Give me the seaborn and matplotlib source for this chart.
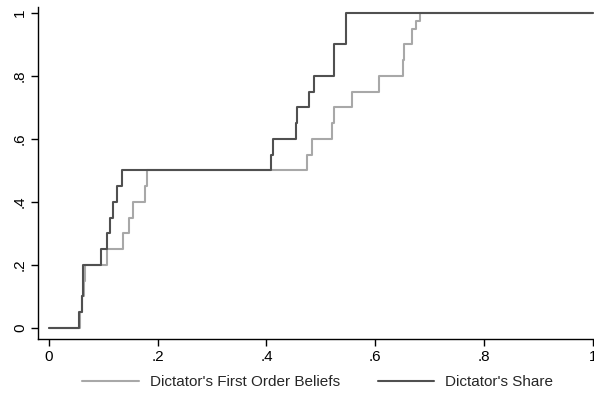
import matplotlib
matplotlib.use("Agg")
import matplotlib.pyplot as plt
import seaborn as sns
import pandas as pd

# Cumulative distribution steps (x = share, y = cumulative fraction)
beliefs_x = [0.0, 0.058, 0.061, 0.064, 0.067, 0.107, 0.137, 0.148, 0.155, 0.176, 0.181,
             0.474, 0.483, 0.521, 0.524, 0.558, 0.607, 0.650, 0.653, 0.668, 0.675, 0.683, 1.0]
beliefs_y = [0.0, 0.05, 0.10, 0.15, 0.20, 0.25, 0.30, 0.35, 0.40, 0.45, 0.50,
             0.55, 0.60, 0.65, 0.70, 0.75, 0.80, 0.85, 0.90, 0.95, 0.975, 1.0, 1.0]

share_x = [0.0, 0.056, 0.060, 0.063, 0.096, 0.106, 0.112, 0.118, 0.126, 0.134,
           0.409, 0.412, 0.454, 0.456, 0.479, 0.488, 0.524, 0.546, 1.0]
share_y = [0.0, 0.05, 0.10, 0.20, 0.25, 0.30, 0.35, 0.40, 0.45, 0.50,
           0.55, 0.60, 0.65, 0.70, 0.75, 0.80, 0.90, 1.0, 1.0]

series_names = ["Dictator's First Order Beliefs", "Dictator's Share"]
series_colors = ["#a8a8a8", "#505050"]

x_ticks = [0, 0.2, 0.4, 0.6, 0.8, 1.0]
x_tick_labels = ["0", ".2", ".4", ".6", ".8", "1"]
y_ticks = [0, 0.2, 0.4, 0.6, 0.8, 1.0]
y_tick_labels = ["0", ".2", ".4", ".6", ".8", "1"]

sns.set_theme(style="white")
plt.rcParams["font.family"] = ["Liberation Sans", "DejaVu Sans"]

fig = plt.figure(figsize=(5.94, 3.97), dpi=100)
ax = fig.add_axes([38 / 594, 58 / 397, 1 - 38 / 594, (339 - 7) / 397])

df = pd.concat([
    pd.DataFrame({"x": beliefs_x, "y": beliefs_y, "series": series_names[0]}),
    pd.DataFrame({"x": share_x, "y": share_y, "series": series_names[1]}),
])

for name, color in zip(series_names, series_colors):
    sub = df[df["series"] == name]
    sns.lineplot(data=sub, x="x", y="y", ax=ax, color=color, lw=1.5,
                 drawstyle="steps-post", estimator=None, sort=False, label=name)

ax.set_xlim(-0.020, 1.002)
ax.set_ylim(-0.035, 1.019)
ax.set_xticks(x_ticks)
ax.set_xticklabels(x_tick_labels)
ax.set_yticks(y_ticks)
ax.set_yticklabels(y_tick_labels, rotation=90, va="center")
ax.set_xlabel("")
ax.set_ylabel("")

for side in ["top", "right"]:
    ax.spines[side].set_visible(False)
for side in ["left", "bottom"]:
    ax.spines[side].set_color("black")
    ax.spines[side].set_linewidth(1.0)

ax.tick_params(axis="both", which="major", direction="out", length=5, width=1.0,
               color="black", labelsize=11, labelcolor="black", pad=3)
ax.tick_params(axis="x", bottom=True)
ax.tick_params(axis="y", left=True)

handles, labels = ax.get_legend_handles_labels()
ax.get_legend().remove()
fig.legend(handles, labels, loc="center", bbox_to_anchor=(0.535, 0.038), ncol=2,
           frameon=False, fontsize=11, handlelength=3.7, handletextpad=0.7,
           columnspacing=2.5)

fig.savefig("out.png", dpi=100, facecolor="white")
